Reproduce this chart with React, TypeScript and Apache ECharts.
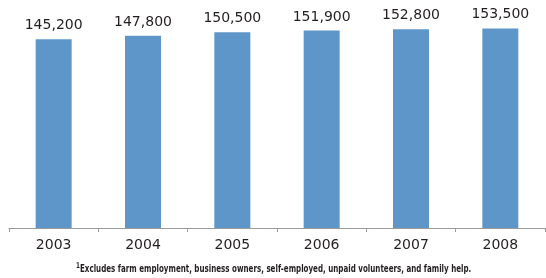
import React, { useEffect, useRef } from "react";
import * as echarts from "echarts";

const years = ["2003", "2004", "2005", "2006", "2007", "2008"];
const employment = [145200, 147800, 150500, 151900, 152800, 153500];
const footnoteMark = "1";
const footnoteText =
  "Excludes farm employment, business owners, self-employed, unpaid volunteers, and family help.";

export default function App() {
  const ref = useRef<HTMLDivElement>(null);
  useEffect(() => {
    if (!ref.current) return;
    const chart = echarts.init(ref.current, undefined, { renderer: "svg" });
    chart.setOption({
      animation: false,
      grid: { left: 9, right: 1, top: 20, bottom: 50, containLabel: false },
      xAxis: {
        type: "category",
        data: years,
        axisLine: { lineStyle: { color: "#9a9a9a", width: 1 } },
        axisTick: { show: true, length: 4, lineStyle: { color: "#9a9a9a" } },
        axisLabel: {
          color: "#231f20",
          fontSize: 14,
          fontFamily: "DejaVu Sans",
          margin: 9,
        },
      },
      yAxis: {
        type: "value",
        min: 0,
        max: 160000,
        show: false,
        splitLine: { show: false },
      },
      series: [
        {
          type: "bar",
          data: employment,
          barWidth: 36,
          itemStyle: { color: "#5e96c9" },
          label: {
            show: true,
            position: "top",
            distance: 8,
            color: "#231f20",
            fontSize: 14,
            fontFamily: "DejaVu Sans",
            formatter: (p: any) => Number(p.value).toLocaleString("en-US"),
          },
        },
      ],
      graphic: [
        {
          type: "text",
          x: 76,
          y: 261,
          scaleX: 0.8,
          style: {
            text: footnoteMark,
            fontSize: 8,
            fontWeight: "bold",
            fontFamily: "DejaVu Sans Condensed",
            fill: "#231f20",
          },
        },
        {
          type: "text",
          x: 80,
          y: 268,
          scaleX: 0.72,
          style: {
            text: footnoteText,
            fontSize: 11,
            fontWeight: "bold",
            fontFamily: "DejaVu Sans Condensed",
            fill: "#231f20",
            verticalAlign: "middle",
          },
        },
      ],
    });
    return () => chart.dispose();
  }, []);
  return (
    <div
      ref={ref}
      style={{ position: "fixed", left: 0, top: 0, width: 546, height: 278 }}
    />
  );
}
